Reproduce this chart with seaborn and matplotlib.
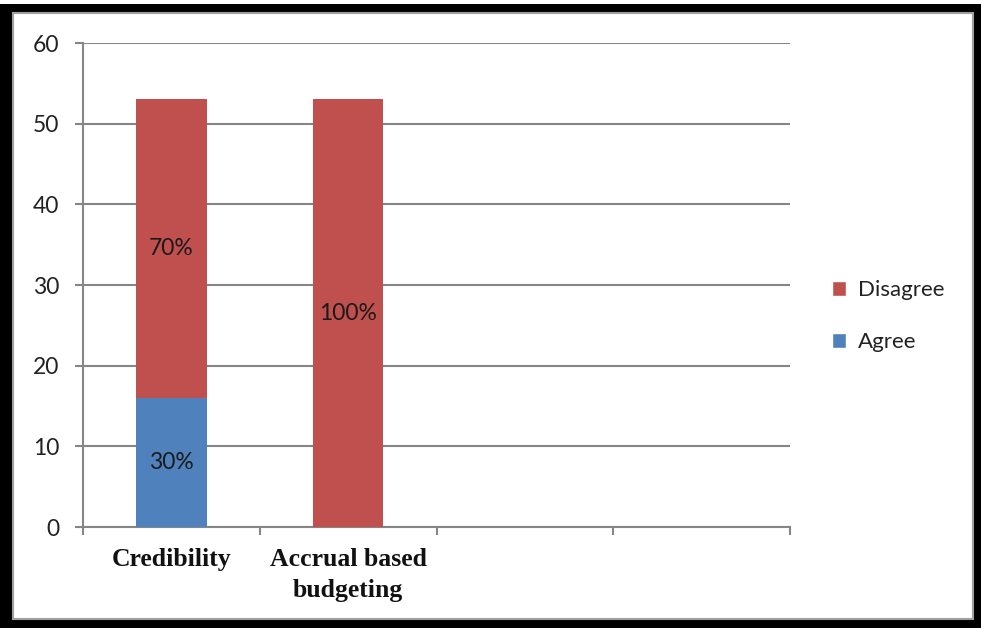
import matplotlib
matplotlib.use("Agg")
import matplotlib.pyplot as plt
from matplotlib.patches import Rectangle, Patch
import seaborn as sns
import pandas as pd

# Survey responses per statement
categories = ["Credibility", "Accrual based\nbudgeting"]
agree = [16, 0]
disagree = [37, 53]
agree_labels = ["30%", ""]
disagree_labels = ["70%", "100%"]
slots = 4  # category slots on the x axis
y_ticks = [0, 10, 20, 30, 40, 50, 60]

RED = "#C0504D"
BLUE = "#4F81BD"
GRID = "#868686"

sns.set_theme(style="white")
plt.rcParams["font.family"] = ["Lato", "DejaVu Sans"]

df = pd.DataFrame({"category": categories, "agree": agree, "disagree": disagree})
df["total"] = df["agree"] + df["disagree"]

W, H = 981, 628
fig = plt.figure(figsize=(W / 100, H / 100), dpi=100)
fig.patch.set_facecolor("white")

# Framed panel with a dark border
fig.patches.append(Rectangle((0, 0), 1, 1 - 4 / H, transform=fig.transFigure,
                             facecolor="black", edgecolor="none", zorder=0))
fig.patches.append(Rectangle((13 / W, 9 / H), (973 - 13) / W, (615 - 9) / H,
                             transform=fig.transFigure, facecolor="white",
                             edgecolor="#A0A0A0", linewidth=1.5, zorder=1))

ax = fig.add_axes([83 / W, 1 - 527 / H, (790 - 83) / W, (527 - 43) / H])
ax.set_facecolor("none")
ax.set_zorder(2)

sns.barplot(data=df, x="category", y="total", color=RED, width=0.4,
            saturation=1, linewidth=0, ax=ax, zorder=3)
sns.barplot(data=df, x="category", y="agree", color=BLUE, width=0.4,
            saturation=1, linewidth=0, ax=ax, zorder=4)

# Segment labels
for i in range(len(categories)):
    if agree_labels[i]:
        ax.text(i, agree[i] / 2, agree_labels[i], ha="center", va="center",
                fontsize=16.5, color="#1a1a1a", zorder=5)
    if disagree_labels[i]:
        ax.text(i, agree[i] + disagree[i] / 2, disagree_labels[i], ha="center",
                va="center", fontsize=16.5, color="#1a1a1a", zorder=5)

ax.set_xlim(-0.5, slots - 0.5)
ax.set_ylim(0, 60)
ax.set_yticks(y_ticks)
ax.yaxis.grid(True, color=GRID, linewidth=1.5)
ax.set_axisbelow(True)

# Category boundaries as major ticks, names centred via minor ticks
ax.set_xticks([i - 0.5 for i in range(slots + 1)])
ax.set_xticklabels([])
ax.set_xticks(range(len(categories)), minor=True)
ax.set_xticklabels(categories, minor=True, fontfamily="Liberation Serif",
                   fontweight="bold", fontsize=18.5, color="#111111",
                   linespacing=1.45)
ax.tick_params(axis="x", which="major", direction="out", length=6,
               width=1.5, color=GRID, bottom=True)
ax.tick_params(axis="x", which="minor", length=0, pad=15, bottom=True)
ax.tick_params(axis="y", direction="out", length=6, width=1.5, color=GRID,
               left=True, labelsize=16.5, labelcolor="#222222", pad=11)
ax.set_xlabel("")
ax.set_ylabel("")

for side in ["top", "right"]:
    ax.spines[side].set_visible(False)
for side in ["left", "bottom"]:
    ax.spines[side].set_color(GRID)
    ax.spines[side].set_linewidth(1.5)

handles = [Patch(facecolor=RED, label="Disagree"),
           Patch(facecolor=BLUE, label="Agree")]
fig.legend(handles=handles, loc="center left",
           bbox_to_anchor=(812 / W, 1 - 316 / H), frameon=False,
           fontsize=16, handlelength=0.65, handleheight=0.65,
           handletextpad=0.5, labelspacing=1.45, labelcolor="#222222")

fig.savefig("out.png", dpi=100)
